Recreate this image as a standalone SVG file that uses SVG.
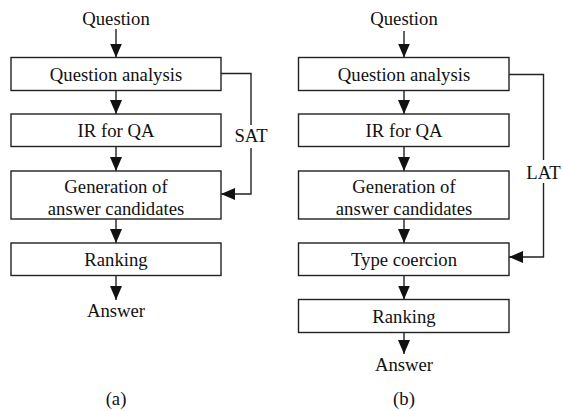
<svg xmlns="http://www.w3.org/2000/svg" width="563" height="411" viewBox="0 0 563 411">
  <style>
    .box { fill: #ffffff; stroke: #222222; stroke-width: 1.4; }
    .lbl { font-family: "Liberation Serif", "Times New Roman", serif; font-size: 18.7px; fill: #111111; text-anchor: middle; }
    .edge { fill: none; stroke: #222222; stroke-width: 1.4; marker-end: url(#head); }
    .gap { fill: #ffffff; stroke: none; }
  </style>
  <defs>
    <marker id="head" markerUnits="userSpaceOnUse" viewBox="0 0 14 12" markerWidth="14" markerHeight="12" refX="14" refY="6" orient="auto">
      <path d="M0,0 L14,6 L0,12 z" fill="#111111"/>
    </marker>
  </defs>

  <rect width="563" height="411" fill="#ffffff"/>

  <!-- connectors -->
  <g id="connectors">
    <!-- pipeline (a) -->
    <path class="edge" d="M116,29 V57.5"/>
    <path class="edge" d="M116,90.5 V114"/>
    <path class="edge" d="M116,146.5 V171"/>
    <path class="edge" d="M116,219 V243"/>
    <path class="edge" d="M116,275.5 V300"/>
    <path class="edge" d="M221,73.5 H251 V194 H221"/>
    <rect class="gap" x="234" y="125" width="34" height="23"/>
    <text class="lbl" x="251" y="142">SAT</text>

    <!-- pipeline (b) -->
    <path class="edge" d="M404,31 V57.5"/>
    <path class="edge" d="M404,90.5 V114"/>
    <path class="edge" d="M404,146.5 V171"/>
    <path class="edge" d="M404,219 V243"/>
    <path class="edge" d="M404,275.5 V299.5"/>
    <path class="edge" d="M404,332.5 V354"/>
    <path class="edge" d="M509,74.5 H543.5 V257 H509"/>
    <rect class="gap" x="525" y="160" width="37" height="23"/>
    <text class="lbl" x="543.5" y="178.5">LAT</text>
  </g>

  <!-- pipeline (a) nodes -->
  <g id="a-question"><text class="lbl" x="116" y="25">Question</text></g>
  <g id="a-analysis">
    <rect class="box" x="11" y="57.5" width="210" height="33"/>
    <text class="lbl" x="116" y="80.5">Question analysis</text>
  </g>
  <g id="a-ir">
    <rect class="box" x="11" y="114" width="210" height="32.5"/>
    <text class="lbl" x="116" y="136.7">IR for QA</text>
  </g>
  <g id="a-generation">
    <rect class="box" x="11" y="171" width="210" height="48"/>
    <text class="lbl" x="116" y="193">Generation of</text>
    <text class="lbl" x="116" y="215">answer candidates</text>
  </g>
  <g id="a-ranking">
    <rect class="box" x="11" y="243" width="210" height="32.5"/>
    <text class="lbl" x="116" y="266">Ranking</text>
  </g>
  <g id="a-answer"><text class="lbl" x="116" y="317">Answer</text></g>
  <g id="a-caption"><text class="lbl" x="116" y="405">(a)</text></g>

  <!-- pipeline (b) nodes -->
  <g id="b-question"><text class="lbl" x="404" y="25">Question</text></g>
  <g id="b-analysis">
    <rect class="box" x="298.5" y="57.5" width="210.5" height="33"/>
    <text class="lbl" x="404" y="80.5">Question analysis</text>
  </g>
  <g id="b-ir">
    <rect class="box" x="298.5" y="114" width="210.5" height="32.5"/>
    <text class="lbl" x="404" y="136.7">IR for QA</text>
  </g>
  <g id="b-generation">
    <rect class="box" x="298.5" y="171" width="210.5" height="48"/>
    <text class="lbl" x="404" y="193">Generation of</text>
    <text class="lbl" x="404" y="215">answer candidates</text>
  </g>
  <g id="b-coercion">
    <rect class="box" x="298.5" y="243" width="210.5" height="32.5"/>
    <text class="lbl" x="404" y="266">Type coercion</text>
  </g>
  <g id="b-ranking">
    <rect class="box" x="298.5" y="299.5" width="210.5" height="33"/>
    <text class="lbl" x="404" y="322.5">Ranking</text>
  </g>
  <g id="b-answer"><text class="lbl" x="404" y="371">Answer</text></g>
  <g id="b-caption"><text class="lbl" x="404" y="405">(b)</text></g>
</svg>
